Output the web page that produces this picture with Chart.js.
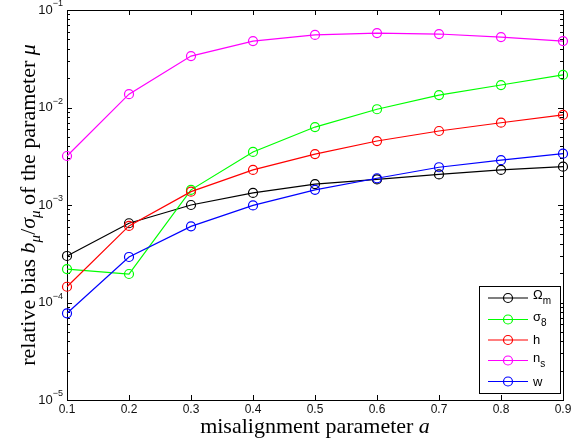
<!DOCTYPE html>
<html>
<head>
<meta charset="utf-8">
<script src="https://cdn.jsdelivr.net/npm/chart.js@4/dist/chart.umd.min.js"></script>
<style>
  html, body { margin: 0; padding: 0; background: #fff; }
</style>
</head>
<body>
<canvas id="biasChart" width="578" height="440"></canvas>
<script>
// misalignment parameter a
var aValues = [0.1, 0.2, 0.3, 0.4, 0.5, 0.6, 0.7, 0.8, 0.9];

// relative bias, one array per parameter
var omegaM = [3.0e-4, 6.5e-4, 1.0e-3, 1.33e-3, 1.64e-3, 1.83e-3, 2.06e-3, 2.29e-3, 2.47e-3];
var sigma8 = [2.2e-4, 1.96e-4, 1.43e-3, 3.5e-3, 6.3e-3, 9.6e-3, 1.34e-2, 1.7e-2, 2.16e-2];
var hubble = [1.45e-4, 6.1e-4, 1.37e-3, 2.29e-3, 3.33e-3, 4.53e-3, 5.74e-3, 6.98e-3, 8.4e-3];
var nS     = [3.18e-3, 1.37e-2, 3.37e-2, 4.8e-2, 5.55e-2, 5.8e-2, 5.67e-2, 5.28e-2, 4.8e-2];
var wDE    = [7.75e-5, 2.93e-4, 6.04e-4, 9.9e-4, 1.43e-3, 1.88e-3, 2.44e-3, 2.88e-3, 3.36e-3];

var xTicks = [0.1, 0.2, 0.3, 0.4, 0.5, 0.6, 0.7, 0.8, 0.9];
var yExponents = [-5, -4, -3, -2, -1];

var legendItems = [
    { main: '\u03A9', sub: 'm', color: '#000000' },
    { main: '\u03C3', sub: '8', color: '#00ff00' },
    { main: 'h', sub: '', color: '#ff0000' },
    { main: 'n', sub: 's', color: '#ff00ff' },
    { main: 'w', sub: '', color: '#0000ff' }
];

var sansFont = '"Liberation Sans", Arial, Helvetica, sans-serif';
var serifFont = '"Liberation Serif", "Times New Roman", serif';

function series(data, color, order) {
    return {
        data: data.map(function (v, i) { return { x: aValues[i], y: v }; }),
        borderColor: color,
        backgroundColor: 'rgba(0,0,0,0)',
        pointBorderColor: color,
        pointBackgroundColor: 'rgba(0,0,0,0)',
        pointRadius: 4.5,
        pointBorderWidth: 1.2,
        borderWidth: 1.2,
        tension: 0,
        clip: false,
        order: order
    };
}

// draw text pieces one after the other, returns total width
function drawPieces(ctx, pieces, x, y, measureOnly) {
    var cx = x;
    pieces.forEach(function (p) {
        ctx.font = p.font;
        if (!measureOnly) ctx.fillText(p.text, cx, y + (p.dy || 0));
        cx += ctx.measureText(p.text).width;
    });
    return cx - x;
}

var axesPlugin = {
    id: 'matlabAxes',
    beforeDatasetsDraw: function (chart) {
        var ctx = chart.ctx, a = chart.chartArea;
        var x = chart.scales.x, y = chart.scales.y;
        ctx.save();
        ctx.strokeStyle = '#000';
        ctx.lineWidth = 1;
        ctx.strokeRect(Math.round(a.left) + 0.5, Math.round(a.top) + 0.5,
            Math.round(a.right - a.left), Math.round(a.bottom - a.top));

        ctx.beginPath();
        // x ticks, inside, bottom and top
        xTicks.forEach(function (v) {
            var px = Math.round(x.getPixelForValue(v)) + 0.5;
            ctx.moveTo(px, a.bottom); ctx.lineTo(px, a.bottom - 5);
            ctx.moveTo(px, a.top); ctx.lineTo(px, a.top + 5);
        });
        // y ticks, majors and minors, left and right
        yExponents.forEach(function (e) {
            var py = Math.round(y.getPixelForValue(Math.pow(10, e))) + 0.5;
            ctx.moveTo(a.left, py); ctx.lineTo(a.left + 5, py);
            ctx.moveTo(a.right, py); ctx.lineTo(a.right - 5, py);
            if (e < -1) {
                for (var m = 2; m <= 9; m++) {
                    var pm = Math.round(y.getPixelForValue(m * Math.pow(10, e))) + 0.5;
                    ctx.moveTo(a.left, pm); ctx.lineTo(a.left + 3, pm);
                    ctx.moveTo(a.right, pm); ctx.lineTo(a.right - 3, pm);
                }
            }
        });
        ctx.stroke();

        // tick labels
        ctx.fillStyle = '#111';
        ctx.textBaseline = 'middle';
        ctx.textAlign = 'center';
        ctx.font = '12px ' + sansFont;
        xTicks.forEach(function (v) {
            ctx.fillText(v.toFixed(1), x.getPixelForValue(v), a.bottom + 10);
        });
        ctx.textAlign = 'left';
        yExponents.forEach(function (e) {
            var py = y.getPixelForValue(Math.pow(10, e));
            var sup = '\u2212' + (-e);
            ctx.font = '9px ' + sansFont;
            var supW = ctx.measureText(sup).width;
            ctx.font = '13px ' + sansFont;
            var baseW = ctx.measureText('10').width;
            var right = a.left - 4;
            ctx.fillText('10', right - supW - baseW, py);
            ctx.font = '9px ' + sansFont;
            ctx.fillText(sup, right - supW, py - 6);
        });

        // x title
        ctx.fillStyle = '#000';
        ctx.textBaseline = 'alphabetic';
        var xPieces = [
            { text: 'misalignment parameter ', font: '22px ' + serifFont },
            { text: 'a', font: 'italic 22px ' + serifFont }
        ];
        var xw = drawPieces(ctx, xPieces, 0, 0, true);
        drawPieces(ctx, xPieces, (a.left + a.right) / 2 - xw / 2, 433);

        // y title, rotated
        var yPieces = [
            { text: 'relative bias ', font: '22px ' + serifFont },
            { text: 'b', font: 'italic 22px ' + serifFont },
            { text: '\u03BC', font: 'italic 15px ' + serifFont, dy: 5 },
            { text: '/', font: '22px ' + serifFont },
            { text: '\u03C3', font: 'italic 22px ' + serifFont },
            { text: '\u03BC', font: 'italic 15px ' + serifFont, dy: 5 },
            { text: ' of the parameter ', font: '22px ' + serifFont },
            { text: '\u03BC', font: 'italic 22px ' + serifFont }
        ];
        var yw = drawPieces(ctx, yPieces, 0, 0, true);
        ctx.translate(35, (a.top + a.bottom) / 2);
        ctx.rotate(-Math.PI / 2);
        drawPieces(ctx, yPieces, -yw / 2, 0);
        ctx.restore();
    },
    afterDraw: function (chart) {
        var ctx = chart.ctx;
        var box = { left: 479, top: 286, right: 560, bottom: 393 };
        var rows = [298, 319.5, 340, 360.5, 381.5];
        ctx.save();
        ctx.fillStyle = '#fff';
        ctx.fillRect(box.left, box.top, box.right - box.left, box.bottom - box.top);
        ctx.strokeStyle = '#000';
        ctx.lineWidth = 1;
        ctx.strokeRect(box.left + 0.5, box.top + 0.5, box.right - box.left, box.bottom - box.top);
        legendItems.forEach(function (item, i) {
            var ry = rows[i];
            ctx.strokeStyle = item.color;
            ctx.lineWidth = 1.2;
            ctx.beginPath();
            ctx.moveTo(488, ry); ctx.lineTo(528, ry);
            ctx.stroke();
            ctx.beginPath();
            ctx.arc(508, ry, 4.5, 0, Math.PI * 2);
            ctx.stroke();
            ctx.fillStyle = '#000';
            ctx.textBaseline = 'alphabetic';
            if (item.sub) {
                drawPieces(ctx, [
                    { text: item.main, font: '13px ' + sansFont },
                    { text: item.sub, font: '10px ' + sansFont, dy: 5 }
                ], 533, ry + 1);
            } else {
                ctx.font = '13px ' + sansFont;
                ctx.fillText(item.main, 533, ry + 4);
            }
        });
        ctx.restore();
    }
};

new Chart(document.getElementById('biasChart'), {
    type: 'line',
    data: {
        datasets: [
            series(omegaM, '#000000', 5),
            series(sigma8, '#00ff00', 4),
            series(hubble, '#ff0000', 3),
            series(nS, '#ff00ff', 2),
            series(wDE, '#0000ff', 1)
        ]
    },
    options: {
        responsive: false,
        animation: false,
        devicePixelRatio: 1,
        layout: { padding: { left: 67, top: 10, right: 15, bottom: 40 } },
        plugins: { legend: { display: false }, tooltip: { enabled: false } },
        scales: {
            x: { type: 'linear', min: 0.1, max: 0.9, display: false },
            y: { type: 'logarithmic', min: 1e-5, max: 1e-1, display: false }
        }
    },
    plugins: [axesPlugin]
});
</script>
</body>
</html>
